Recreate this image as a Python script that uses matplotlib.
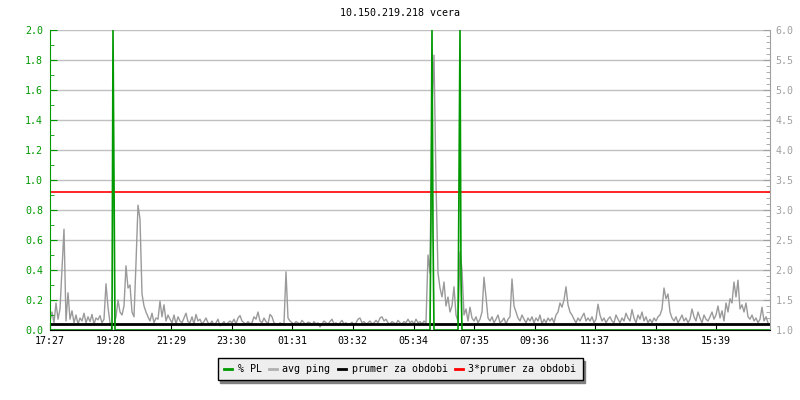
import numpy as np
import matplotlib
matplotlib.use('Agg')
import matplotlib.pyplot as plt
from matplotlib.lines import Line2D

plt.rcParams['font.family'] = 'DejaVu Sans Mono'
plt.rcParams['font.size'] = 7.2

title = '10.150.219.218 vcera'

# x axis: minutes after 17:27
tick_minutes = [0, 121, 242, 363, 484, 605, 727, 848, 969, 1090, 1211, 1332]
tick_labels = ['17:27', '19:28', '21:29', '23:30', '01:31', '03:32',
               '05:34', '07:35', '09:36', '11:37', '13:38', '15:39']

# avg ping [ms], one sample every 4 minutes
ping = [
    1.15, 1.30, 1.12, 1.45, 1.18, 1.35, 2.00, 2.68, 1.15, 1.62,
    1.18, 1.32, 1.12, 1.25, 1.10, 1.20, 1.15, 1.28, 1.12, 1.22,
    1.14, 1.26, 1.10, 1.20, 1.17, 1.24, 1.12, 1.18, 1.77, 1.38,
    1.12, 1.08, 1.10, 1.22, 1.50, 1.30, 1.25, 1.40, 2.07, 1.70,
    1.75, 1.30, 1.22, 2.12, 3.08, 2.85, 1.60, 1.40, 1.30, 1.22,
    1.15, 1.28, 1.12, 1.20, 1.18, 1.48, 1.22, 1.42, 1.15, 1.25,
    1.18, 1.12, 1.25, 1.10, 1.22, 1.15, 1.12, 1.20, 1.28, 1.14,
    1.12, 1.22, 1.10, 1.26, 1.15, 1.18, 1.10, 1.14, 1.20, 1.12,
    1.10, 1.15, 1.08, 1.12, 1.18, 1.07, 1.10, 1.14, 1.08, 1.12,
    1.15, 1.12, 1.18, 1.10, 1.20, 1.24, 1.15, 1.12, 1.10, 1.14,
    1.10, 1.12, 1.22, 1.18, 1.30, 1.15, 1.12, 1.20, 1.14, 1.10,
    1.26, 1.22, 1.12, 1.10, 1.08, 1.12, 1.10, 1.11, 1.97, 1.20,
    1.15, 1.12, 1.10, 1.14, 1.12, 1.10, 1.16, 1.12, 1.10, 1.13,
    1.12, 1.08, 1.14, 1.10, 1.12, 1.05, 1.10, 1.15, 1.12, 1.10,
    1.14, 1.18, 1.10, 1.12, 1.08, 1.12, 1.16, 1.10, 1.12, 1.09,
    1.10, 1.13, 1.08, 1.12, 1.18, 1.20, 1.12, 1.14, 1.10, 1.12,
    1.15, 1.10, 1.12, 1.16, 1.12, 1.20, 1.22, 1.15, 1.18, 1.12,
    1.10, 1.14, 1.12, 1.10, 1.16, 1.12, 1.10, 1.14, 1.12, 1.18,
    1.12, 1.15, 1.10, 1.18, 1.12, 1.14, 1.10, 1.15, 1.12, 2.25,
    1.95, 4.70, 5.58, 3.45, 1.95, 1.70, 1.55, 1.80, 1.40, 1.55,
    1.30, 1.40, 1.72, 1.25, 1.15, 2.30, 2.00, 1.25, 1.35, 1.15,
    1.38, 1.20, 1.15, 1.22, 1.12, 1.18, 1.30, 1.88, 1.55, 1.20,
    1.15, 1.22, 1.12, 1.18, 1.25, 1.12, 1.15, 1.20, 1.10, 1.18,
    1.22, 1.85, 1.40, 1.30, 1.20, 1.15, 1.25, 1.18, 1.12, 1.20,
    1.15, 1.22, 1.12, 1.20, 1.15, 1.25, 1.10, 1.18, 1.12, 1.20,
    1.15, 1.20, 1.12, 1.25, 1.30, 1.45, 1.38, 1.50, 1.72, 1.42,
    1.30, 1.25, 1.18, 1.12, 1.20, 1.15, 1.22, 1.28, 1.15, 1.20,
    1.15, 1.22, 1.12, 1.18, 1.43, 1.25, 1.15, 1.20, 1.12, 1.18,
    1.22, 1.15, 1.12, 1.25, 1.18, 1.12, 1.20, 1.15, 1.28, 1.20,
    1.15, 1.34, 1.20, 1.12, 1.25, 1.18, 1.30, 1.15, 1.22, 1.12,
    1.18, 1.12, 1.20, 1.15, 1.22, 1.25, 1.35, 1.70, 1.52, 1.60,
    1.30, 1.20, 1.15, 1.22, 1.12, 1.18, 1.25, 1.15, 1.20, 1.12,
    1.18, 1.35, 1.22, 1.15, 1.30, 1.20, 1.12, 1.25, 1.18, 1.15,
    1.22, 1.30, 1.18, 1.25, 1.40, 1.20, 1.32, 1.15, 1.45, 1.30,
    1.52, 1.45, 1.80, 1.55, 1.83, 1.35, 1.42, 1.30, 1.45, 1.22,
    1.18, 1.25, 1.15, 1.20, 1.12, 1.18, 1.38, 1.15, 1.22, 1.12,
]
ping_step = 4

# packet loss [%], only the non-zero 2-minute slots
pl_slots = [63, 64, 381, 382, 383, 409, 410, 411]
pl_values = [2.0, 1.0, 0.79, 2.0, 0.65, 1.0, 2.0, 0.35]
pl_step = 2

ping_mean = 1.10
ping_mean3 = 3.30

GREEN = '#009900'
GRAY = '#9a9a9a'
GRID = '#c0c0c0'

t_ping = np.arange(len(ping)) * ping_step
pl = np.zeros(720)
pl[pl_slots] = pl_values
t_pl = np.arange(len(pl)) * pl_step

fig = plt.figure(figsize=(8, 4), dpi=100)
ax = fig.add_axes([0.0625, 0.175, 0.9, 0.75])
ax2 = ax.twinx()

# ax2 (ping) underneath, ax (packet loss) on top
ax.set_zorder(2)
ax2.set_zorder(1)
ax.patch.set_visible(False)

ax2.set_ylim(1.0, 6.0)
ax2.set_yticks(np.arange(1.0, 6.01, 0.5))
ax2.set_yticks(np.arange(1.0, 6.01, 0.1), minor=True)
ax2.yaxis.grid(True, color=GRID, lw=1)
ax2.set_axisbelow(True)
ax2.plot(t_ping, ping, color=GRAY, lw=1.0)
ax2.axhline(ping_mean, color='black', lw=2)
ax2.axhline(ping_mean3, color='red', lw=1.2)
ax2.tick_params(axis='y', which='both', direction='in', colors='#a0a0a0',
                labelcolor='#a0a0a0', pad=4)
ax2.tick_params(axis='y', which='major', length=5)
ax2.tick_params(axis='y', which='minor', length=3)
for s in ['left', 'top', 'bottom']:
    ax2.spines[s].set_visible(False)
ax2.spines['right'].set_color('#a0a0a0')

ax.plot(t_pl, pl, color=GREEN, lw=1.2)
ax.set_xlim(0, 1440)
ax.set_ylim(0, 2.0)
ax.set_yticks(np.arange(0, 2.01, 0.2))
ax.set_yticks(np.arange(0, 2.01, 0.1), minor=True)
ax.set_yticklabels(['%.1f' % v for v in np.arange(0, 2.01, 0.2)])
ax.tick_params(axis='y', which='both', direction='in', colors=GREEN,
               labelcolor=GREEN, pad=5)
ax.tick_params(axis='y', which='major', length=5)
ax.tick_params(axis='y', which='minor', length=3)
ax.set_xticks(tick_minutes)
ax.set_xticklabels(tick_labels)
ax.tick_params(axis='x', direction='in', length=5, color='black', pad=4)
ax.spines['left'].set_color(GREEN)
ax.spines['bottom'].set_color('black')
ax.spines['top'].set_visible(False)
ax.spines['right'].set_visible(False)

fig.text(0.5, 0.967, title, ha='center', va='center')

handles = [Line2D([], [], color=GREEN, lw=2),
           Line2D([], [], color='#b0b0b0', lw=2),
           Line2D([], [], color='black', lw=2),
           Line2D([], [], color='red', lw=2)]
labels = ['% PL', 'avg ping', 'prumer za obdobi', '3*prumer za obdobi']
leg = fig.legend(handles, labels, loc='center', bbox_to_anchor=(0.5, 0.0775),
                 ncol=4, handlelength=0.8, handletextpad=0.6,
                 columnspacing=0.7, borderpad=0.6, fancybox=False,
                 framealpha=1, facecolor='#eeeeee', edgecolor='black',
                 shadow={'facecolor': '#808080', 'edgecolor': '#808080', 'alpha': 1})
leg.get_frame().set_linewidth(1)

fig.savefig('out.png', dpi=100)
